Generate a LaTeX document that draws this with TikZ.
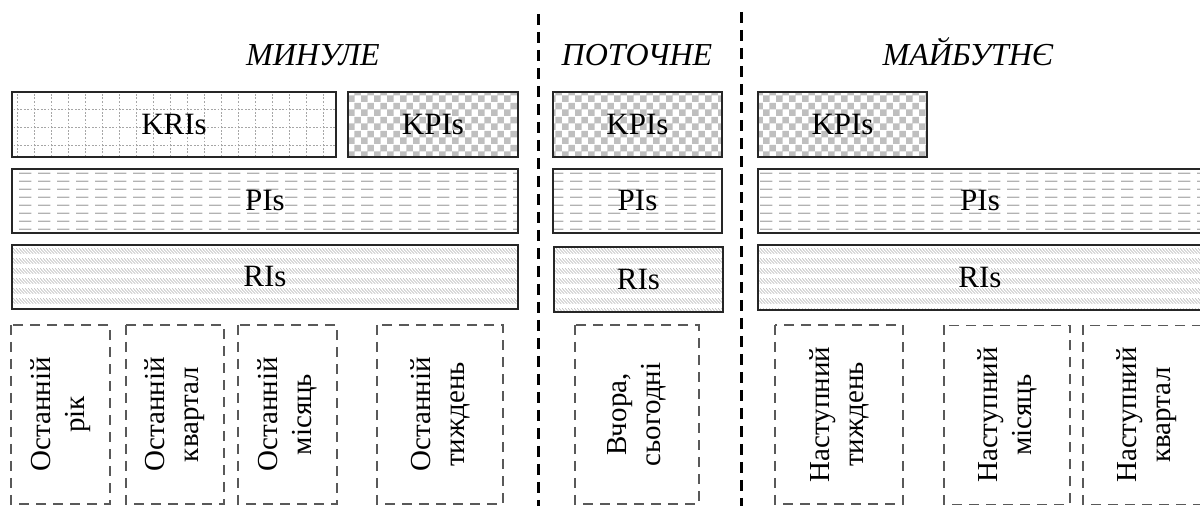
\documentclass[tikz,border=0pt]{standalone}
\usepackage{fontspec}
\setmainfont{Liberation Serif}
\usetikzlibrary{patterns}

% fills of the indicator bars
\pgfdeclarepatternformonly{krigrid}{\pgfqpoint{-0.5pt}{-0.5pt}}{\pgfqpoint{9pt}{9.5pt}}{\pgfqpoint{8.5pt}{9pt}}{%
  \pgfsetlinewidth{0.5pt}
  \pgfsetdash{{0.85pt}{0.85pt}}{0pt}
  \pgfpathmoveto{\pgfqpoint{0pt}{0pt}}\pgfpathlineto{\pgfqpoint{8.5pt}{0pt}}
  \pgfusepath{stroke}
  \pgfsetdash{{0.9pt}{0.9pt}}{0pt}
  \pgfpathmoveto{\pgfqpoint{0pt}{0pt}}\pgfpathlineto{\pgfqpoint{0pt}{9pt}}
  \pgfusepath{stroke}}
\pgfdeclarepatternformonly{kpicheck}{\pgfpointorigin}{\pgfqpoint{6.7pt}{6.7pt}}{\pgfqpoint{6.7pt}{6.7pt}}{%
  \pgfpathrectangle{\pgfpointorigin}{\pgfqpoint{3.4pt}{3.4pt}}
  \pgfpathrectangle{\pgfqpoint{3.35pt}{3.35pt}}{\pgfqpoint{3.4pt}{3.4pt}}
  \pgfusepath{fill}}
\pgfdeclarepatternformonly{pidash}{\pgfpointorigin}{\pgfqpoint{9.5pt}{4.15pt}}{\pgfqpoint{9.5pt}{4.15pt}}{%
  \pgfsetlinewidth{0.65pt}
  \pgfpathmoveto{\pgfqpoint{0pt}{2.07pt}}\pgfpathlineto{\pgfqpoint{6.5pt}{2.07pt}}
  \pgfusepath{stroke}}
\pgfdeclarepatternformonly{rihatch}{\pgfpointorigin}{\pgfqpoint{1.7pt}{5pt}}{\pgfqpoint{1.7pt}{5pt}}{%
  \pgfsetlinewidth{0.3pt}
  \pgfpathmoveto{\pgfqpoint{-1.7pt}{4.2pt}}\pgfpathlineto{\pgfqpoint{1.3pt}{1.2pt}}
  \pgfpathmoveto{\pgfqpoint{0pt}{4.2pt}}\pgfpathlineto{\pgfqpoint{3pt}{1.2pt}}
  \pgfpathmoveto{\pgfqpoint{-3.4pt}{4.2pt}}\pgfpathlineto{\pgfqpoint{-0.4pt}{1.2pt}}
  \pgfusepath{stroke}}

\tikzset{%
  ind/.style={%
    draw=black!85,
    line width=1pt,
    inner sep=0pt,
    font=\fontsize{15.5}{18}\selectfont
  },
  kribox/.style={ind,pattern=krigrid,pattern color=black!35},
  kpibox/.style={ind,pattern=kpicheck,pattern color=black!25},
  pibox/.style={ind,pattern=pidash,pattern color=black!30},
  ribox/.style={ind,pattern=rihatch,pattern color=black!30},
  termbox/.style={%
    draw=black!65,
    line width=0.75pt,
    dash pattern=on 5pt off 3.5pt,
    rotate=90,
    align=center,
    inner sep=0pt,
    minimum width=89.5pt,
    font=\fontsize{14.5}{17}\selectfont
  },
  periodlabel/.style={anchor=base,font=\fontsize{16}{19}\selectfont\itshape},
  divider/.style={%
    black,
    line width=1.5pt,
    dash pattern=on 5.5pt off 3.5pt
  }
}

\begin{document}
\begin{tikzpicture}[x=0.5pt,y=-0.5pt]
    \useasboundingbox (0,0) rectangle (1200,506);

    % periods
    \node[periodlabel] (past) at (313,66) {МИНУЛЕ};
    \node[periodlabel] (now) at (637,66) {ПОТОЧНЕ};
    \node[periodlabel] (future) at (968,66) {МАЙБУТНЄ};

    \coordinate (d1top) at (538,14);
    \coordinate (d1bot) at (538,510);
    \coordinate (d2top) at (741,12);
    \coordinate (d2bot) at (741,510);
    \draw[divider] (d1top) -- (d1bot);
    \draw[divider] (d2top) -- (d2bot);

    % past
    \node[kribox, minimum width=162pt, minimum height=32.5pt] (krip) at (174,124.5) {KRIs};
    \node[kpibox, minimum width=85pt, minimum height=32.5pt] (kpip) at (433,124.5) {KPIs};
    \node[pibox, minimum width=253pt, minimum height=32pt] (pip) at (265,201) {PIs};
    \node[ribox, minimum width=253pt, minimum height=32pt] (rip) at (265,277) {RIs};

    % now
    \node[kpibox, minimum width=84.5pt, minimum height=32.5pt] (kpin) at (637.5,124.5) {KPIs};
    \node[pibox, minimum width=84.5pt, minimum height=32pt] (pin) at (637.5,201) {PIs};
    \node[ribox, minimum width=84.5pt, minimum height=32.5pt] (rin) at (638.5,279.5) {RIs};

    % future
    \node[kpibox, minimum width=84.5pt, minimum height=32.5pt] (kpif) at (842.5,124.5) {KPIs};
    \node[pibox, minimum width=222pt, minimum height=32pt] (pif) at (980,201) {PIs};
    \node[ribox, minimum width=222pt, minimum height=32.5pt] (rif) at (980,277.5) {RIs};

    % horizons
    \node[termbox, minimum height=49.5pt] (year) at (60.5,414.5) {Останній\\рік};
    \node[termbox, minimum height=49pt] (quarter) at (175,414.5) {Останній\\квартал};
    \node[termbox, minimum height=49.5pt] (month) at (287.5,414.5) {Останній\\місяць};
    \node[termbox, minimum height=63pt] (week) at (440,414.5) {Останній\\тиждень};
    \node[termbox, minimum height=62pt] (today) at (637,414.5) {Вчора,\\сьогодні};
    \node[termbox, minimum height=64pt] (nweek) at (839,414.5) {Наступний\\тиждень};
    \node[termbox, minimum height=63pt] (nmonth) at (1007,415) {Наступний\\місяць};
    \node[termbox, minimum height=63.5pt] (nquarter) at (1146.5,415) {Наступний\\квартал};
\end{tikzpicture}
\end{document}
